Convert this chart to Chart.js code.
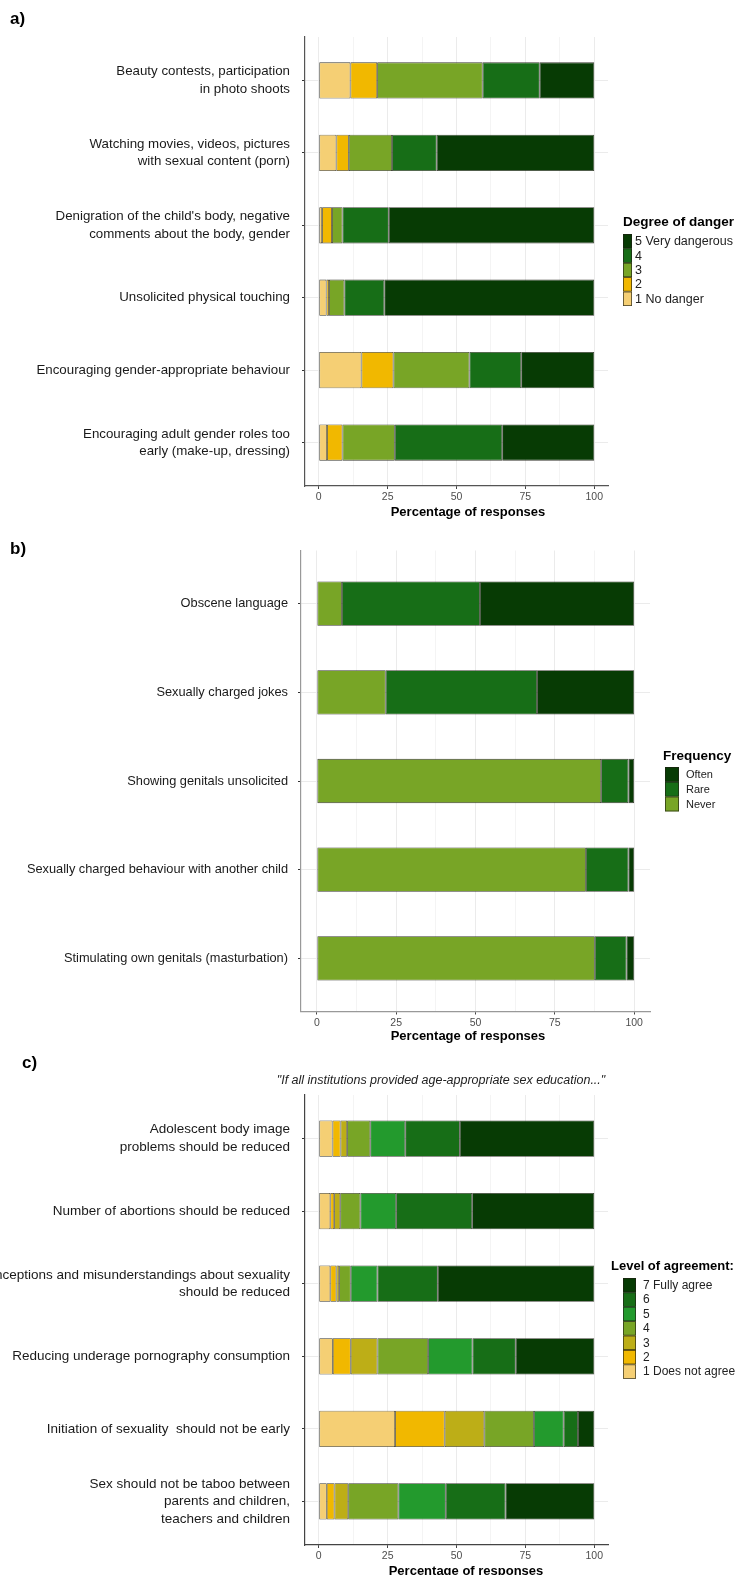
<!DOCTYPE html>
<html>
<head>
<meta charset="utf-8">
<script src="https://cdn.jsdelivr.net/npm/chart.js@4.4.1/dist/chart.umd.min.js"></script>
<style>
  body { margin: 0; background: #fff; overflow: hidden; }
  canvas { position: absolute; left: 0; }
</style>
</head>
<body>
<canvas id="chartA" width="737" height="530"></canvas>
<canvas id="chartB" width="737" height="525"></canvas>
<canvas id="chartC" width="737" height="525"></canvas>
<script>
// a) degree of danger
const dangerItems = [
  ["Beauty contests, participation", "in photo shoots"],
  ["Watching movies, videos, pictures", "with sexual content (porn)"],
  ["Denigration of the child's body, negative", "comments about the body, gender"],
  "Unsolicited physical touching",
  "Encouraging gender-appropriate behaviour",
  ["Encouraging adult gender roles too", "early (make-up, dressing)"]
];
const dangerLevels = ["1 No danger", "2", "3", "4", "5 Very dangerous"];
const danger1 = [11.5, 6.4, 1.2, 2.8, 15.5, 3.0];
const danger2 = [9.7, 4.5, 3.6, 0.9, 11.6, 5.6];
const danger3 = [38.3, 15.7, 3.8, 5.6, 27.6, 19.0];
const danger4 = [20.7, 16.2, 16.8, 14.5, 18.8, 39.0];
const danger5 = [19.8, 57.2, 74.6, 76.2, 26.5, 33.4];

// b) frequency
const behaviourItems = [
  "Obscene language",
  "Sexually charged jokes",
  "Showing genitals unsolicited",
  "Sexually charged behaviour with another child",
  "Stimulating own genitals (masturbation)"
];
const freqLevels = ["Never", "Rare", "Often"];
const freqNever = [7.9, 21.7, 89.6, 84.8, 87.6];
const freqRare = [43.5, 47.7, 8.6, 13.4, 10.0];
const freqOften = [48.6, 30.6, 1.8, 1.8, 2.4];

// c) level of agreement
const agreeItems = [
  ["Adolescent body image", "problems should be reduced"],
  "Number of abortions should be reduced",
  ["Misconceptions and misunderstandings about sexuality", "should be reduced"],
  "Reducing underage pornography consumption",
  "Initiation of sexuality  should not be early",
  ["Sex should not be taboo between", "parents and children,", "teachers and children"]
];
const agreeLevels = ["1 Does not agree", "2", "3", "4", "5", "6", "7 Fully agree"];
const agree1 = [5.0, 4.2, 4.2, 5.1, 27.7, 2.9];
const agree2 = [2.9, 1.4, 2.2, 6.5, 18.0, 2.8];
const agree3 = [2.4, 2.2, 1.0, 9.7, 14.4, 5.0];
const agree4 = [8.4, 7.3, 4.2, 18.4, 18.0, 18.2];
const agree5 = [12.7, 13.0, 9.7, 16.1, 10.8, 17.2];
const agree6 = [19.8, 27.6, 21.9, 15.7, 5.2, 21.7];
const agree7 = [48.8, 44.3, 56.8, 28.5, 5.9, 32.2];

const xTicks = [0, 12.5, 25, 37.5, 50, 62.5, 75, 87.5, 100];

const C_LIGHT = "#f5cf74", C_GOLD = "#f1b800", C_OLIVE = "#bdae17",
      C_LIME = "#78a526", C_GREEN5 = "#239a2d", C_GREEN = "#176e17", C_DARK = "#073b04";

const FONT = "'Liberation Sans', Arial, sans-serif";
const W = 737;

function makePanel(id, top, height, box, items, levels, series, colors, deco) {
  const cv = document.getElementById(id);
  cv.style.top = top + "px";
  const n = items.length;

  // legend, panel letter, titles
  const textPlugin = {
    id: "deco_" + id,
    afterDraw(chart) {
      const c = chart.ctx;
      c.save();
      c.fillStyle = "#000";
      c.textBaseline = "middle";
      c.textAlign = "left";
      c.font = "bold 17px " + FONT;
      c.fillText(deco.letter, deco.letterX, deco.letterY - top);

      c.textAlign = "center";
      c.font = "bold 13px " + FONT;
      c.fillText("Percentage of responses", deco.titleX, deco.titleY - top);

      if (deco.subtitle) {
        c.font = "italic 12.5px " + FONT;
        c.fillStyle = "#222";
        c.fillText(deco.subtitle, deco.subX, deco.subY - top);
      }

      const lg = deco.legend;
      c.textAlign = "left";
      c.fillStyle = "#000";
      c.font = "bold " + lg.titleSize + "px " + FONT;
      c.fillText(lg.title, lg.titleX, lg.titleY - top);
      c.font = lg.fontSize + "px " + FONT;
      for (let k = levels.length - 1, row = 0; k >= 0; k--, row++) {
        const y = lg.keyTop + row * lg.keyH - top;
        c.fillStyle = colors[k];
        c.fillRect(lg.keyX, y, lg.keyW, lg.keyH);
        c.strokeStyle = "rgba(30,30,20,0.8)";
        c.lineWidth = 0.8;
        c.strokeRect(lg.keyX + 0.4, y + 0.4, lg.keyW - 0.8, lg.keyH - 0.8);
        c.fillStyle = "#222";
        c.fillText(levels[k], lg.labelX, y + lg.keyH / 2 + 0.5);
      }
      c.restore();
    }
  };

  return new Chart(cv.getContext("2d"), {
    type: "bar",
    data: {
      datasets: series.map((vals, k) => ({
        label: levels[k],
        data: vals.map((v, i) => ({ x: v, y: i + 1 })),
        backgroundColor: colors[k],
        borderColor: "rgba(25,25,15,0.85)",
        borderWidth: 0.8,
        borderSkipped: false,
        barPercentage: 0.5,
        categoryPercentage: 1
      }))
    },
    options: {
      indexAxis: "y",
      responsive: false,
      animation: false,
      layout: { padding: { left: 0, right: W - box.right, top: box.top - top, bottom: 0 } },
      plugins: { legend: { display: false }, tooltip: { enabled: false } },
      scales: {
        x: {
          type: "linear",
          stacked: true,
          min: -5,
          max: 105,
          afterFit: s => {
            s.height = height - (box.bottom - top);
            s.paddingLeft = 0;
            s.paddingRight = 0;
          },
          afterBuildTicks: s => { s.ticks = xTicks.map(v => ({ value: v })); },
          ticks: {
            autoSkip: false,
            maxRotation: 0,
            padding: 2,
            color: "#4d4d4d",
            font: { family: FONT, size: 10.5 },
            callback: v => (v % 25 === 0 ? v : "")
          },
          grid: {
            color: ctx => (ctx.tick && ctx.tick.value % 25 === 0 ? "#ebebeb" : "#f4f4f4"),
            tickColor: ctx => (ctx.tick && ctx.tick.value % 25 === 0 ? "#444" : "rgba(0,0,0,0)"),
            tickLength: 3
          },
          border: { color: deco.axisColor, width: 1.2 }
        },
        y: {
          type: "linear",
          stacked: true,
          reverse: true,
          offset: false,
          min: 0.4,
          max: n + 0.6,
          afterFit: s => {
            s.width = box.left;
            s.paddingTop = 0;
            s.paddingBottom = 0;
          },
          afterBuildTicks: s => { s.ticks = items.map((_, i) => ({ value: i + 1 })); },
          ticks: {
            autoSkip: false,
            padding: deco.labelPad,
            color: "#1a1a1a",
            font: { family: FONT, size: deco.labelSize, lineHeight: 1.3 },
            callback: v => items[v - 1]
          },
          grid: { offset: false, color: "#ebebeb", tickColor: "#333", tickLength: 3 },
          border: { color: deco.axisColor, width: 1.2 }
        }
      }
    },
    plugins: [textPlugin]
  });
}

makePanel("chartA", 0, 530,
  { left: 305, right: 608, top: 37, bottom: 486 },
  dangerItems, dangerLevels,
  [danger1, danger2, danger3, danger4, danger5],
  [C_LIGHT, C_GOLD, C_LIME, C_GREEN, C_DARK],
  {
    letter: "a)", letterX: 10, letterY: 19,
    titleX: 468, titleY: 512, axisColor: "#555", labelPad: 12, labelSize: 13.3,
    legend: { title: "Degree of danger", titleSize: 13.5, titleX: 623, titleY: 222, keyX: 623, keyW: 9,
              keyTop: 234, keyH: 14.4, labelX: 635, fontSize: 12.5 }
  });

makePanel("chartB", 530, 525,
  { left: 301, right: 650, top: 550.5, bottom: 1011.5 },
  behaviourItems, freqLevels,
  [freqNever, freqRare, freqOften],
  [C_LIME, C_GREEN, C_DARK],
  {
    letter: "b)", letterX: 10, letterY: 549,
    titleX: 468, titleY: 1036, axisColor: "#999", labelPad: 10, labelSize: 12.8,
    legend: { title: "Frequency", titleSize: 13.5, titleX: 663, titleY: 756, keyX: 665, keyW: 14,
              keyTop: 767, keyH: 14.8, labelX: 686, fontSize: 11 }
  });

makePanel("chartC", 1050, 525,
  { left: 305, right: 608, top: 1095, bottom: 1545 },
  agreeItems, agreeLevels,
  [agree1, agree2, agree3, agree4, agree5, agree6, agree7],
  [C_LIGHT, C_GOLD, C_OLIVE, C_LIME, C_GREEN5, C_GREEN, C_DARK],
  {
    letter: "c)", letterX: 22, letterY: 1063,
    titleX: 466, titleY: 1571, axisColor: "#444", labelPad: 12, labelSize: 13.5,
    subtitle: "\"If all institutions provided age-appropriate sex education...\"", subX: 441, subY: 1081,
    legend: { title: "Level of agreement:", titleSize: 13, titleX: 611, titleY: 1266, keyX: 623, keyW: 13,
              keyTop: 1278, keyH: 14.4, labelX: 643, fontSize: 12 }
  });
</script>
</body>
</html>
